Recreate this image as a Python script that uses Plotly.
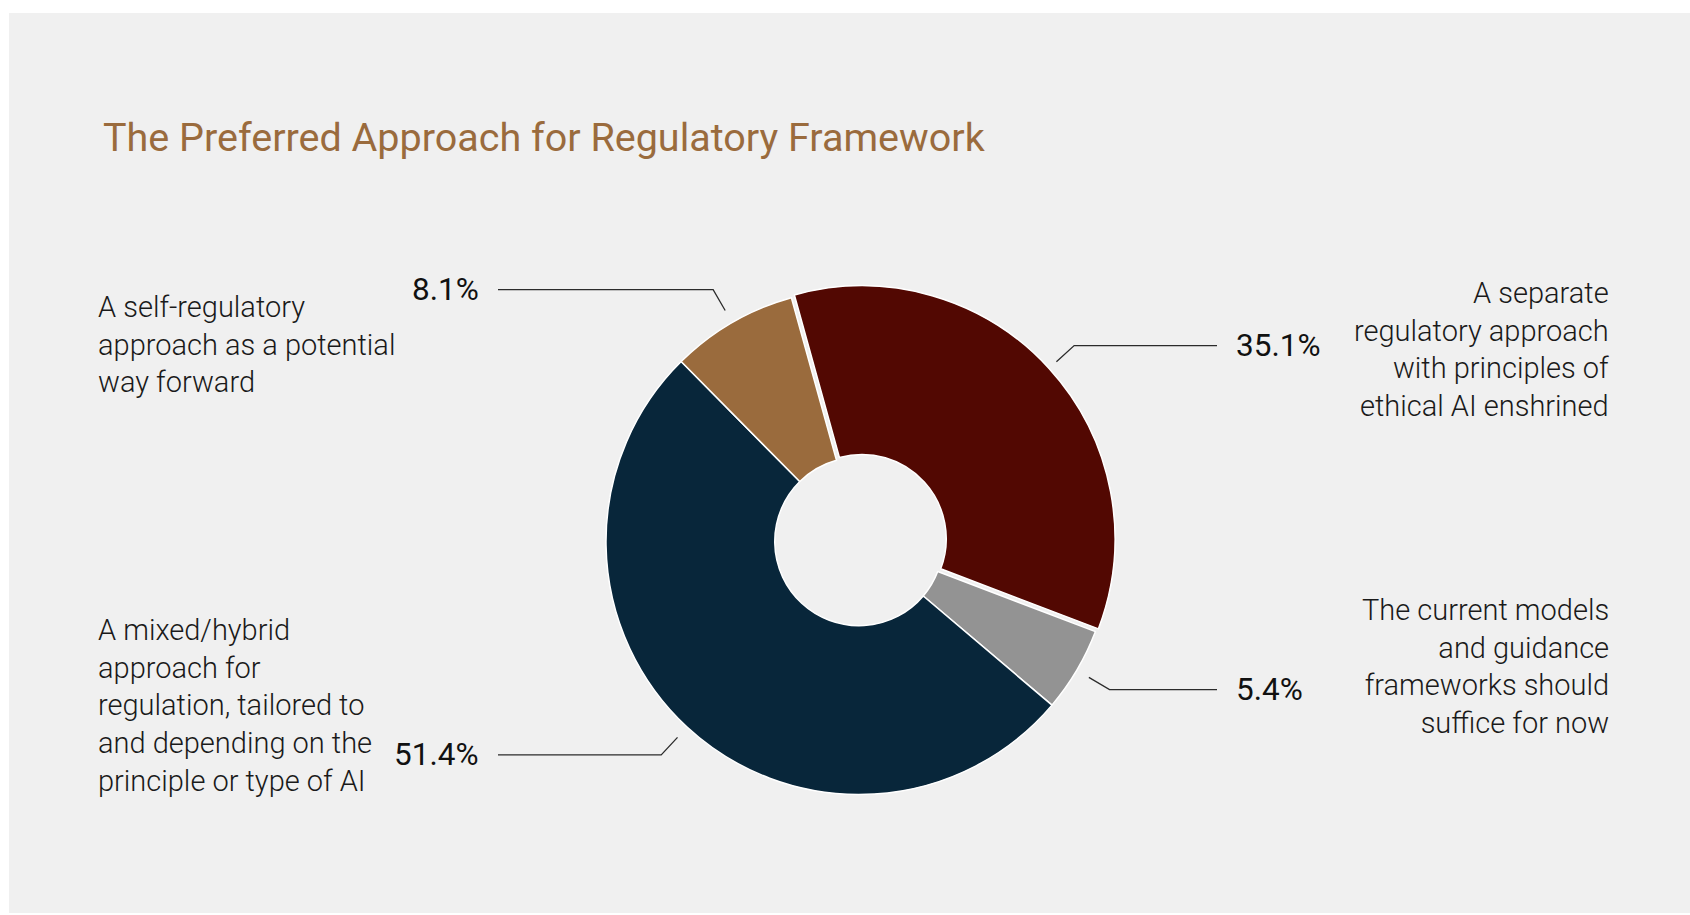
import math
import plotly.graph_objects as go

# ---------------- data ----------------
categories = [
    "A separate regulatory approach with principles of ethical AI enshrined",
    "The current models and guidance frameworks should suffice for now",
    "A mixed/hybrid approach for regulation, tailored to and depending on the principle or type of AI",
    "A self-regulatory approach as a potential way forward",
]
values = [35.1, 5.4, 51.4, 8.1]
pct_labels = ["35.1%", "5.4%", "51.4%", "8.1%"]
label_lines = [
    ["A separate", "regulatory approach", "with principles of", "ethical AI enshrined"],
    ["The current models", "and guidance", "frameworks should", "suffice for now"],
    ["A mixed/hybrid", "approach for", "regulation, tailored to", "and depending on the", "principle or type of AI"],
    ["A self-regulatory", "approach as a potential", "way forward"],
]
title_text = "The Preferred Approach for Regulatory Framework"

# ---------------- styling / layout ----------------
colors = ["#520802", "#939393", "#08263A", "#9A6B3D"]
pulls = [0.016, 0, 0, 0]
W, H = 1690, 915
CX, CY, R = 859, 541.5, 253
HOLE = 0.333
ROTATION = -15.5
BG = "#F0F0F0"
TEXT_FONT = "Roboto"

def px(x):
    return x / W

def py(y):
    return 1 - y / H

half = R * (1 + max(pulls))
domain_x = [px(CX - half), px(CX + half)]
domain_y = [py(CY + half), py(CY - half)]

fig = go.Figure(
    go.Pie(
        labels=categories,
        values=values,
        sort=False,
        direction="clockwise",
        rotation=ROTATION,
        hole=HOLE,
        pull=pulls,
        marker=dict(colors=colors, line=dict(color="#FFFFFF", width=1.5)),
        textinfo="none",
        hoverinfo="label+percent",
        showlegend=False,
        domain=dict(x=domain_x, y=domain_y),
    )
)

shapes = [
    dict(type="rect", xref="paper", yref="paper", x0=px(9), x1=1.0, y0=py(913), y1=py(13),
         fillcolor=BG, line=dict(width=0), layer="below")
]
annotations = []

# leader lines + percentage labels, computed from the slice angles
total = sum(values)
cum = 0.0
R1, R2 = 267, 291
LEFT_END, RIGHT_END = 498, 1217
for v, lab in zip(values, pct_labels):
    a = math.radians(ROTATION + (cum + v / 2) / total * 360)
    cum += v
    sx, sy = CX + R1 * math.sin(a), CY - R1 * math.cos(a)
    ex, ey = CX + R2 * math.sin(a), CY - R2 * math.cos(a)
    right = math.sin(a) > 0
    endx = RIGHT_END if right else LEFT_END
    path = f"M {px(sx)} {py(sy)} L {px(ex)} {py(ey)} L {px(endx)} {py(ey)}"
    shapes.append(dict(type="path", xref="paper", yref="paper", path=path,
                       line=dict(color="#2b2b2b", width=1.3)))
    annotations.append(dict(
        x=px(endx + 17) if right else px(endx - 17), y=py(ey),
        xref="paper", yref="paper",
        xanchor="left" if right else "right", yanchor="middle",
        text=lab, showarrow=False,
        font=dict(family=TEXT_FONT, size=31.5, color="#111111"),
    ))

# category description blocks
block_pos = [(1611, 349, "right"), (1611, 666, "right"), (96, 705, "left"), (96, 344, "left")]
for lines, (bx, by, side) in zip(label_lines, block_pos):
    annotations.append(dict(
        x=px(bx), y=py(by), xref="paper", yref="paper",
        xanchor=side, yanchor="middle", align=side,
        text="<br>".join(lines), showarrow=False,
        font=dict(family=TEXT_FONT, size=29, color="#1a1a1a", weight=300),
    ))

# title
annotations.append(dict(
    x=px(101), y=py(137), xref="paper", yref="paper",
    xanchor="left", yanchor="middle",
    text=title_text, showarrow=False,
    font=dict(family=TEXT_FONT, size=39.5, color="#9A6B3D"),
))

fig.update_layout(
    width=W, height=H,
    margin=dict(l=0, r=0, t=0, b=0),
    paper_bgcolor="#FFFFFF",
    plot_bgcolor="#FFFFFF",
    shapes=shapes,
    annotations=annotations,
    showlegend=False,
)

fig.write_html("out.html")
